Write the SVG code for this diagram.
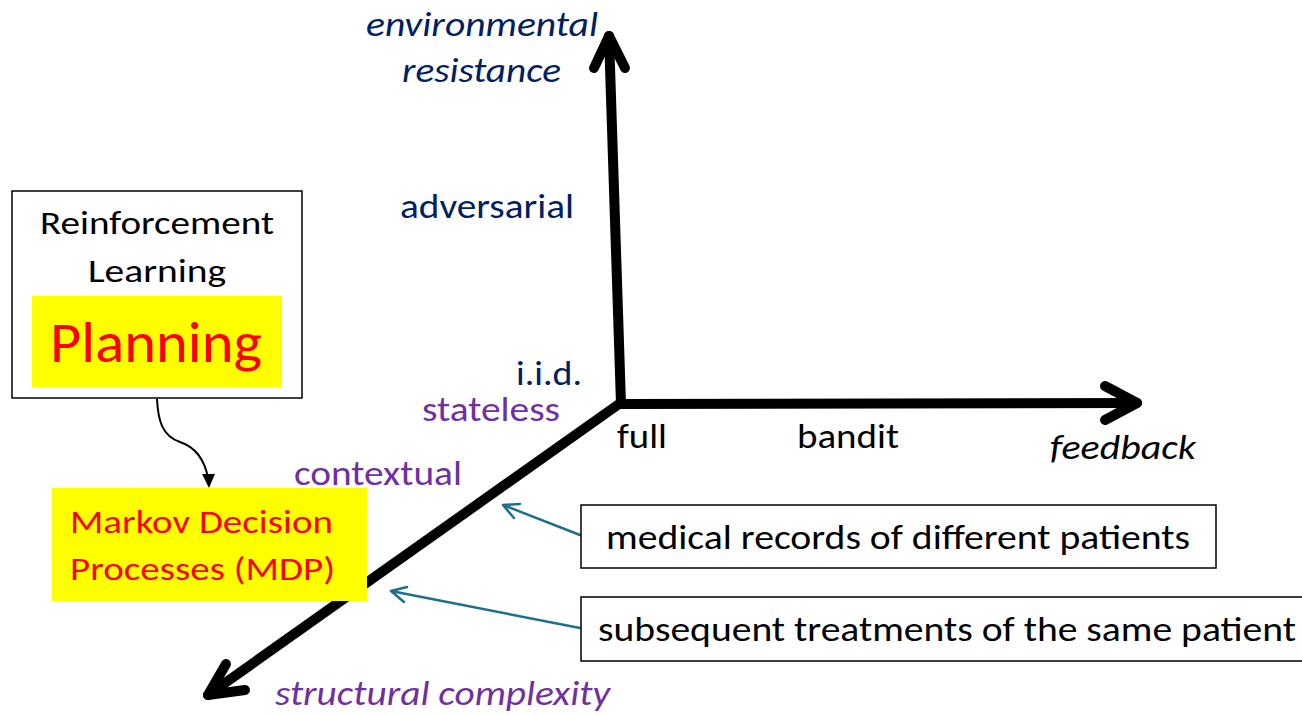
<svg xmlns="http://www.w3.org/2000/svg" width="1302" height="715" viewBox="0 0 1302 715">
<style>
text{font-family:Carlito,Lato,"Noto Sans",sans-serif;}
.axis{fill:none;stroke:#000;stroke-width:10;stroke-linecap:round;stroke-linejoin:round;}
.navy{fill:#002060;}
.purple{fill:#7030A0;}
.red{fill:#FF0000;}
.blk{fill:#000;}
.it{font-style:italic;}
.box{fill:#fff;stroke:#000;stroke-width:1.5;}
.teal{fill:none;stroke:#1F6F8B;stroke-width:2.5;stroke-linecap:round;stroke-linejoin:round;}
</style>
<rect width="1302" height="715" fill="#fff"/>
<g id="connectors">
<path class="axis" d="M609 36 L621 404 L1137 403"/>
<path class="axis" d="M594 68 L609 36 L625 68"/>
<path class="axis" d="M1105 386 L1137 403 L1105 420"/>
<path class="axis" d="M619 404 L208 695"/>
<path class="axis" d="M226 664 L208 695 L245 690"/>
<path d="M157 399 C158 420 162 436 180 442 C198 448 205 462 208 478" fill="none" stroke="#000" stroke-width="2"/>
<path d="M202 474 L209 488 L215 474 Z" fill="#000"/>
<path class="teal" d="M580 535 L503 505 M520 504 L503 505 L514 518"/>
<path class="teal" d="M580 628 L391 591 M407 587 L391 591 L404 602"/>
</g>
<g id="rl">
<rect class="box" x="12" y="191" width="290" height="207"/>
<text class="blk" x="157" y="234" font-size="33" text-anchor="middle" textLength="234" lengthAdjust="spacingAndGlyphs">Reinforcement</text>
<text class="blk" x="157" y="282" font-size="33" text-anchor="middle" textLength="138" lengthAdjust="spacingAndGlyphs">Learning</text>
<rect x="32" y="296" width="250" height="91" fill="#FFFF00"/>
<text class="red" x="156" y="362" font-size="57" text-anchor="middle" textLength="212" lengthAdjust="spacingAndGlyphs">Planning</text>
</g>
<g id="mdp">
<rect x="52" y="488" width="315" height="113" fill="#FFFF00"/>
<text class="red" x="70" y="533" font-size="33" textLength="263" lengthAdjust="spacingAndGlyphs">Markov Decision</text>
<text class="red" x="70" y="580" font-size="33" textLength="265" lengthAdjust="spacingAndGlyphs">Processes (MDP)</text>
</g>
<g id="box1">
<rect class="box" x="581" y="505" width="635" height="63"/>
<text class="blk" x="606" y="549" font-size="34" textLength="584" lengthAdjust="spacingAndGlyphs">medical records of different patients</text>
</g>
<g id="box2">
<rect class="box" x="581" y="597" width="722" height="64"/>
<text class="blk" x="598" y="641" font-size="34" textLength="698" lengthAdjust="spacingAndGlyphs">subsequent treatments of the same patient</text>
</g>
<g id="labels">
<text class="navy it" x="366" y="36" font-size="34" textLength="232" lengthAdjust="spacingAndGlyphs">environmental</text>
<text class="navy it" x="402" y="82" font-size="34" textLength="159" lengthAdjust="spacingAndGlyphs">resistance</text>
<text class="navy" x="400" y="218" font-size="34" textLength="174" lengthAdjust="spacingAndGlyphs">adversarial</text>
<text class="navy" x="516" y="385" font-size="34" textLength="66" lengthAdjust="spacingAndGlyphs">i.i.d.</text>
<text class="purple" x="422" y="421" font-size="34" textLength="138" lengthAdjust="spacingAndGlyphs">stateless</text>
<text class="purple" x="294" y="485" font-size="34" textLength="168" lengthAdjust="spacingAndGlyphs">contextual</text>
<text class="blk" x="617" y="448" font-size="34" textLength="50" lengthAdjust="spacingAndGlyphs">full</text>
<text class="blk" x="797" y="448" font-size="34" textLength="102" lengthAdjust="spacingAndGlyphs">bandit</text>
<text class="blk it" x="1050" y="459" font-size="34" textLength="146" lengthAdjust="spacingAndGlyphs">feedback</text>
<text class="purple it" x="275" y="705" font-size="34" textLength="335" lengthAdjust="spacingAndGlyphs">structural complexity</text>
</g>
</svg>
